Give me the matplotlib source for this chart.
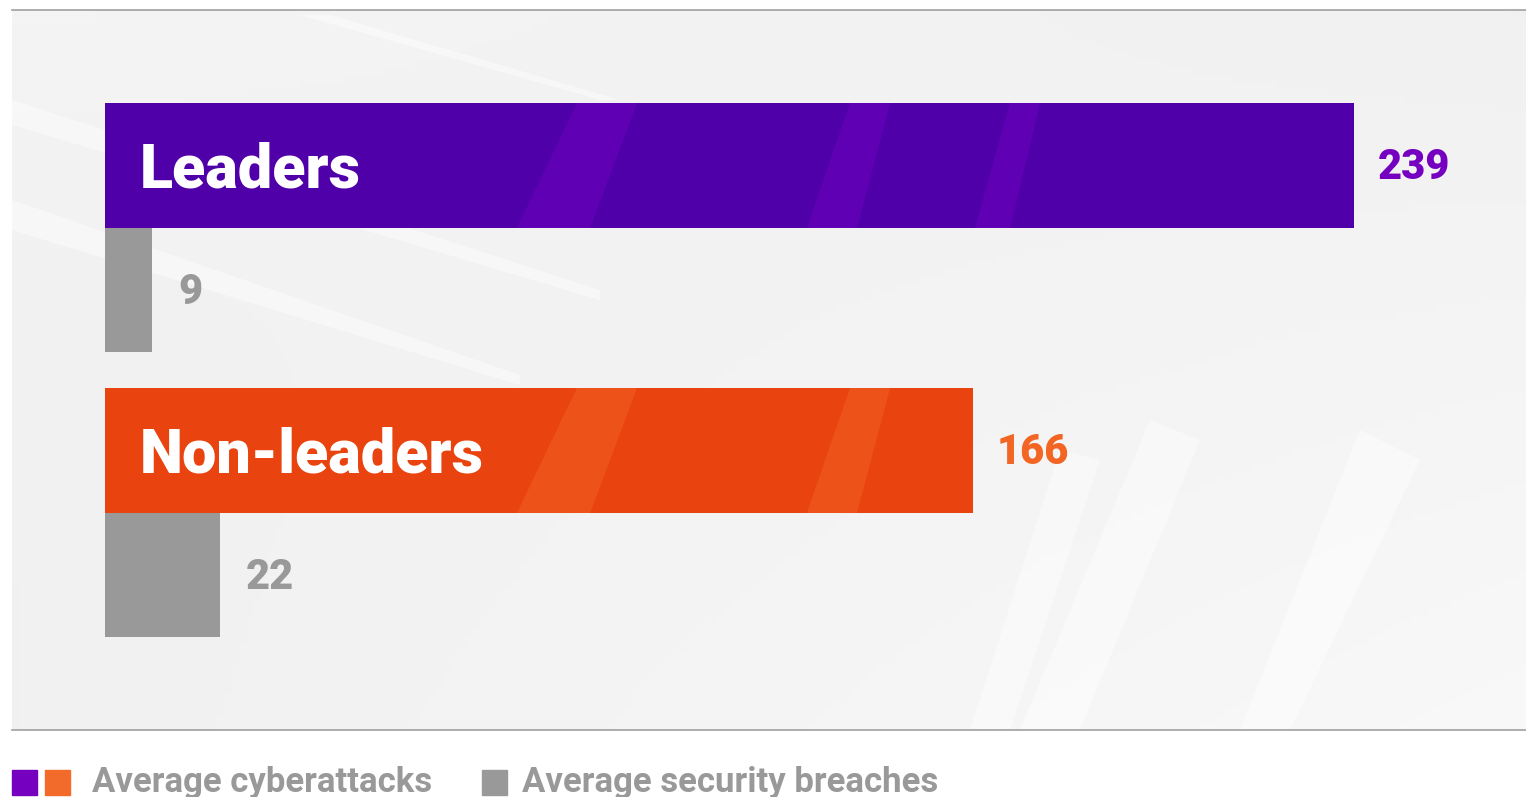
import numpy as np
import matplotlib.pyplot as plt
from matplotlib.patches import Rectangle, Polygon

# Data
groups = ["Leaders", "Non-leaders"]
attacks = [239, 166]
breaches = [9, 22]
attack_colors = ["#5000a8", "#e9440f"]
stripe_colors = ["#7a00c8", "#f46a26"]
label_colors = ["#7500c0", "#f26522"]
gray = "#999999"
legend_labels = ["Average cyberattacks", "Average security breaches"]

W, H = 1526, 797
fig = plt.figure(figsize=(W / 100, H / 100), dpi=100)

# panel in pixel terms
px_left, px_right, px_top, px_bot = 12, 1526, 10, 730
ax = fig.add_axes([px_left / W, 1 - px_bot / H, (px_right - px_left) / W, (px_bot - px_top) / H])
ax.set_facecolor("#f1f2f2")

scale = 5.226  # px per unit
x0 = 105
xlim = (-(x0 - px_left) / scale, (px_right - x0) / scale)
bar_px = 124.5
spacing = 285 / bar_px
ylim = (-0.5 + (px_bot - 103) / bar_px, -0.5 - (103 - px_top) / bar_px)

# soft background light: brighter toward the lower right
gx, gy = np.meshgrid(np.linspace(0, 1, 200), np.linspace(0, 1, 100))
glow = np.clip(0.6 * gx * gy + 0.25 * (1 - gx) * (1 - gy) ** 3, 0, 1)
bg = np.dstack([0.945 + 0.05 * glow] * 3)
ax.imshow(bg, extent=[xlim[0], xlim[1], ylim[0], ylim[1]], aspect="auto", zorder=0, origin="upper")
ax.set_xlim(*xlim)
ax.set_ylim(*ylim)


def px_poly(pts, color, alpha, z, clip=None):
    verts = [(x / W, 1 - y / H) for x, y in pts]
    p = Polygon(verts, closed=True, transform=fig.transFigure, facecolor=color,
                edgecolor="none", alpha=alpha, zorder=z)
    ax.add_artist(p)
    if clip is not None:
        p.set_clip_path(clip)
    return p


# decorative light streaks in the background (pixel coords)
for pts in [
    [(12, 100), (12, 125), (600, 300), (600, 290)],
    [(12, 200), (12, 230), (520, 385), (520, 375)],
    [(300, 15), (330, 15), (620, 100), (600, 100)],
    [(1150, 420), (1200, 440), (1080, 730), (1020, 730)],
    [(1360, 430), (1420, 460), (1290, 730), (1240, 730)],
    [(1060, 450), (1100, 460), (1010, 730), (970, 730)],
]:
    px_poly(pts, "white", 0.45, 1, clip=ax.patch)

font = "Roboto"
for g, name in enumerate(groups):
    y_a = g * spacing
    y_b = y_a + 1
    bar = ax.barh(y_a, attacks[g], height=1.0, color=attack_colors[g], zorder=2)[0]
    ax.barh(y_b, breaches[g], height=1.0, color=gray, zorder=2)
    top = 103 + g * 285
    for sx_top, sx_bot, w_top, w_bot in [(577, 517, 60, 73), (850, 807, 40, 50), (1010, 975, 30, 35)]:
        px_poly([(sx_top, top), (sx_top + w_top, top), (sx_bot + w_bot, top + 125), (sx_bot, top + 125)],
                stripe_colors[g], 0.4, 2.5, clip=bar)
    ax.text(35 / scale, y_a + 22.5 / bar_px, name, color="white", fontsize=44, fontweight="heavy",
            family=font, va="baseline", ha="left", zorder=3)
    ax.text(attacks[g] + 24 / scale, y_a + 14 / bar_px, str(attacks[g]), color=label_colors[g],
            fontsize=30, fontweight="heavy", family=font, va="baseline", ha="left", zorder=3)
    ax.text(breaches[g] + 26 / scale, y_b + 14 / bar_px, str(breaches[g]), color=gray,
            fontsize=30, fontweight="heavy", family=font, va="baseline", ha="left", zorder=3)

ax.set_xticks([])
ax.set_yticks([])
for s in ax.spines.values():
    s.set_visible(False)

# top and bottom rules
fig.add_artist(plt.Line2D([px_left / W, 1], [1 - px_top / H] * 2, color="#a0a0a0", lw=1.2))
fig.add_artist(plt.Line2D([px_left / W, 1], [1 - px_bot / H] * 2, color="#a0a0a0", lw=1.2))

# legend
sq = 25


def square(xp, color):
    fig.add_artist(Rectangle((xp / W, 1 - 795 / H), sq / W, sq / H, color=color,
                             transform=fig.transFigure))


square(12, label_colors[0])
square(45, "#f26b2a")
fig.text(92 / W, 1 - 792 / H, legend_labels[0], color=gray, fontsize=25,
         fontweight="bold", family=font, va="baseline")
square(482, gray)
fig.text(522 / W, 1 - 792 / H, legend_labels[1], color=gray, fontsize=25,
         fontweight="bold", family=font, va="baseline")

fig.savefig("out.png", dpi=100, facecolor="white")
